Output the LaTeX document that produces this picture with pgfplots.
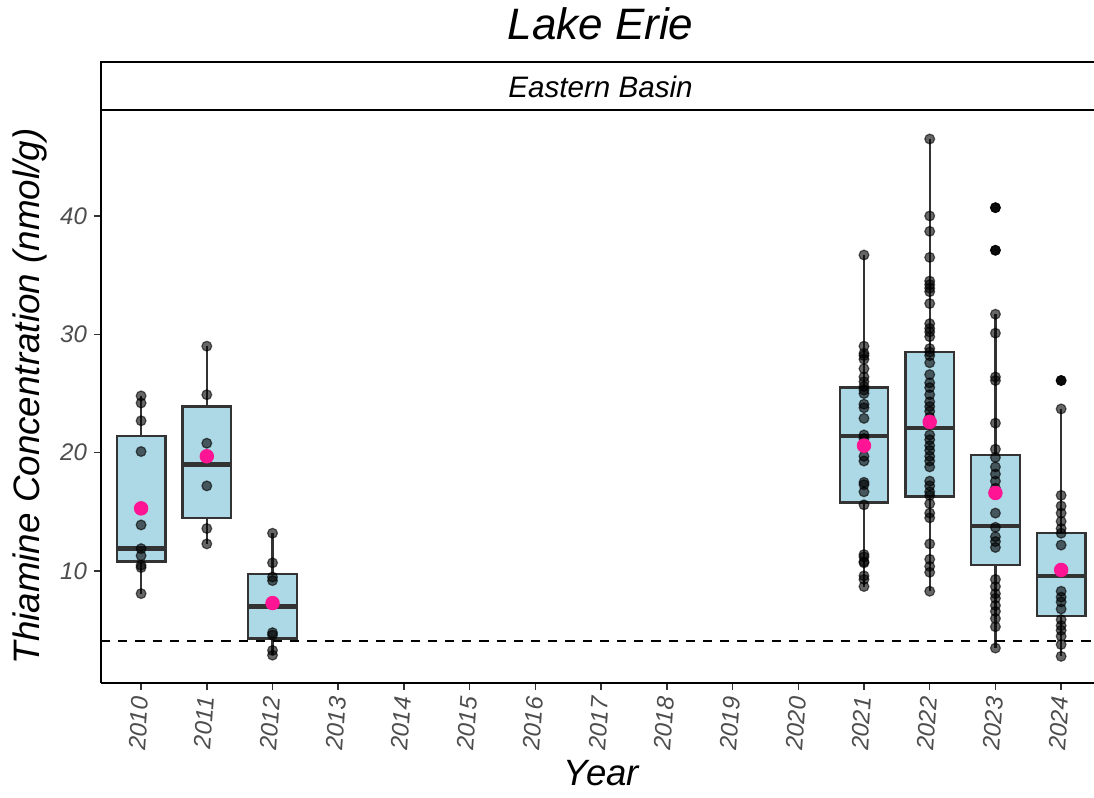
\documentclass[border=0pt]{standalone}
\usepackage{fontspec}
\setmainfont{Liberation Sans}
\usepackage{pgfplots}
\pgfplotsset{compat=1.18}
\usepgfplotslibrary{statistics}
\definecolor{boxfill}{HTML}{ADD8E6}
\definecolor{boxline}{HTML}{333333}
\definecolor{meanpink}{HTML}{FF1493}
\definecolor{ticktext}{HTML}{4D4D4D}
\pgfplotsset{
  pts/.style={only marks, mark=*, mark size=2.45pt, mark options={fill=black, draw=black, opacity=0.6, line width=0.6pt}},
  outl/.style={only marks, mark=*, mark size=2.45pt, mark options={fill=black, draw=black, opacity=0.9}},
  bx/.style={fill=boxfill, draw=boxline, line width=1.15pt, solid,
    boxplot/draw direction=y,
    boxplot/box extend=0.74, boxplot/whisker extend=0,
    boxplot/every median/.style={line width=2.3pt, draw=boxline}},
}
\begin{document}
\begin{tikzpicture}
\begin{axis}[
  scale only axis, width=496.5pt, height=286.5pt,
  xmin=-0.61, xmax=14.5, ymin=0.55, ymax=48.95,
  axis lines=left, axis line style={-, line width=0.9pt, color=black},
  xtick={0,1,2,3,4,5,6,7,8,9,10,11,12,13,14},
  xticklabels={2010,2011,2012,2013,2014,2015,2016,2017,2018,2019,2020,2021,2022,2023,2024},
  ytick={10,20,30,40}, yticklabels={10,20,30,40},
  tick align=outside, major tick length=3.5pt,
  tick style={line width=0.75pt, color=boxline},
  xticklabel style={rotate=86, anchor=east, font=\fontsize{12}{12}\selectfont\itshape, text=ticktext},
  yticklabel style={font=\fontsize{12}{12}\selectfont\itshape, text=ticktext},
  clip=false,
]
\coordinate (bl) at (rel axis cs:0,0);
\coordinate (tl) at (rel axis cs:0,1);
% boxes
\addplot[bx, boxplot prepared={draw position=0, lower whisker=8.1, lower quartile=10.8, median=11.9, upper quartile=21.4, upper whisker=24.8}] coordinates {};
\addplot[bx, boxplot prepared={draw position=1, lower whisker=12.3, lower quartile=14.5, median=19.0, upper quartile=23.9, upper whisker=29.0}] coordinates {};
\addplot[bx, boxplot prepared={draw position=2, lower whisker=2.9, lower quartile=4.3, median=7.0, upper quartile=9.75, upper whisker=13.2}] coordinates {};
\addplot[bx, boxplot prepared={draw position=11, lower whisker=8.7, lower quartile=15.8, median=21.4, upper quartile=25.5, upper whisker=36.7}] coordinates {};
\addplot[bx, boxplot prepared={draw position=12, lower whisker=8.3, lower quartile=16.3, median=22.1, upper quartile=28.5, upper whisker=46.5}] coordinates {};
\addplot[bx, boxplot prepared={draw position=13, lower whisker=3.5, lower quartile=10.5, median=13.8, upper quartile=19.8, upper whisker=31.7}] coordinates {};
\addplot[bx, boxplot prepared={draw position=14, lower whisker=2.8, lower quartile=6.2, median=9.6, upper quartile=13.2, upper whisker=23.7}] coordinates {};
% threshold
\addplot[black, line width=1pt, dash pattern=on 4.6pt off 4pt] coordinates {(-0.61,4.1) (14.5,4.1)};
% points
\addplot[pts] coordinates {
(0,24.8) (0,24.2) (0,22.7) (0,20.1) (0,13.9) (0,11.9) (0,11.3) (0,10.5) (0,10.3) (0,8.1)
(1,29.0) (1,24.9) (1,20.8) (1,17.2) (1,13.6) (1,12.3)
(2,13.2) (2,10.7) (2,9.5) (2,9.2) (2,4.8) (2,4.6) (2,3.3) (2,2.9)
};
\addplot[pts] coordinates {
(11,36.7) (11,29.0) (11,28.4) (11,28.2) (11,27.9) (11,27.1) (11,26.4) (11,26.0) (11,25.6) (11,25.3)
(11,25.0) (11,24.1) (11,23.8) (11,22.9) (11,21.5) (11,21.2) (11,19.7) (11,19.3) (11,17.5) (11,17.3)
(11,16.7) (11,15.6) (11,11.4) (11,11.2) (11,10.8) (11,10.7) (11,9.6) (11,9.3) (11,8.7)
};
\addplot[pts] coordinates {
(12,46.5) (12,40.0) (12,38.7) (12,36.5) (12,34.5) (12,34.2) (12,33.9) (12,33.6) (12,32.6) (12,30.9)
(12,30.5) (12,30.2) (12,29.8) (12,28.8) (12,28.5) (12,28.2) (12,27.6) (12,26.6) (12,25.9) (12,25.5)
(12,24.9) (12,24.3) (12,23.9) (12,23.5) (12,23.0) (12,21.5) (12,21.1) (12,20.6) (12,20.2) (12,19.7)
(12,19.3) (12,18.8) (12,17.6) (12,17.2) (12,16.7) (12,16.4) (12,15.7) (12,14.9) (12,14.5) (12,12.3)
(12,11.0) (12,10.4) (12,9.9) (12,8.3)
};
\addplot[pts] coordinates {
(13,40.7) (13,37.1) (13,31.7) (13,30.1) (13,26.4) (13,26.1) (13,22.5) (13,20.3) (13,19.6) (13,18.8)
(13,18.2) (13,17.6) (13,17.0) (13,14.9) (13,13.7) (13,12.9) (13,12.5) (13,12.0) (13,9.3) (13,8.7)
(13,8.1) (13,7.7) (13,7.1) (13,6.6) (13,6.0) (13,5.3) (13,3.5)
};
\addplot[pts] coordinates {
(14,26.1) (14,23.7) (14,16.4) (14,15.5) (14,14.9) (14,14.2) (14,13.6) (14,13.2) (14,12.2) (14,10.2)
(14,8.3) (14,7.8) (14,7.4) (14,6.8) (14,5.9) (14,5.4) (14,5.0) (14,4.5) (14,3.8) (14,2.8)
};
% outliers
\addplot[outl] coordinates {(13,40.7) (13,37.1) (14,26.1)};
% means
\addplot[only marks, mark=*, mark size=3.4pt, mark options={fill=meanpink, draw=meanpink}] coordinates {
(0,15.3) (1,19.7) (2,7.3) (11,20.6) (12,22.6) (13,16.6) (14,10.1)
};
\end{axis}
% strip
\draw[line width=1pt] ([shift={(620pt,24pt)}]tl) -- ([shift={(0pt,24pt)}]tl) -- (tl) -- ([shift={(620pt,0pt)}]tl);
\node[anchor=base, inner sep=0pt, font=\fontsize{14.8}{15}\selectfont\itshape] at ([shift={(249.75pt,292.5pt)}]bl) {Eastern Basin};
\node[anchor=base, inner sep=0pt, font=\fontsize{22}{24}\selectfont\itshape] at ([shift={(249.75pt,321.5pt)}]bl) {Lake Erie};
\node[anchor=base, inner sep=0pt, font=\fontsize{18.3}{20}\selectfont\itshape] at ([shift={(250.25pt,-51.5pt)}]bl) {Year};
\node[anchor=base, rotate=90, inner sep=0pt, font=\fontsize{18.4}{20}\selectfont\itshape] at ([shift={(-30.5pt,143.25pt)}]bl) {Thiamine Concentration (nmol/g)};
\pgfresetboundingbox
\path ([shift={(-50.5pt,-57.5pt)}]bl) rectangle ++(547pt,399pt);
\end{tikzpicture}
\end{document}
